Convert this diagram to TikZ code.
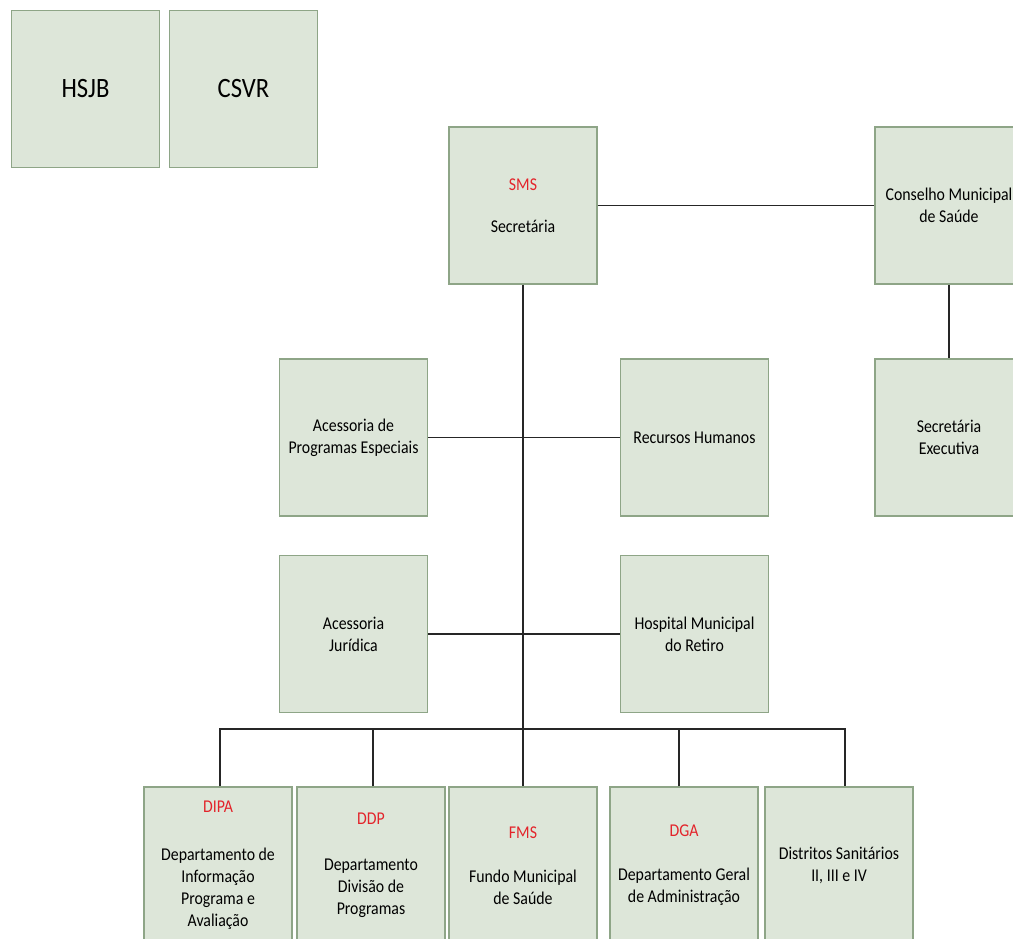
\documentclass[tikz,border=0pt]{standalone}
\usepackage{fontspec}
\setmainfont{Carlito}[FakeStretch=0.88]
\usetikzlibrary{positioning}
\definecolor{boxfill}{HTML}{DDE6D9}
\definecolor{boxline}{HTML}{8EA587}
\definecolor{tagred}{HTML}{E3242B}
\begin{document}
\begin{tikzpicture}[x=1pt,y=1pt,font=\fontsize{18}{22}\selectfont,box/.style={draw=boxline,fill=boxfill,line width=1.2pt,align=center,minimum width=148pt,minimum height=157pt,inner sep=1pt},link/.style={draw=black!85,line width=1.5pt}]
\clip (0,0) rectangle (1013,939);
\node[box,font=\fontsize{28}{32}\selectfont] (hsjb) at (85.5,850) {HSJB};
\node[box,font=\fontsize{28}{32}\selectfont] (csvr) at (243.5,850) {CSVR};
\node[box] (sms) at (523,733.5) {\textcolor{tagred}{SMS}\\[20pt]Secretária};
\node[box] (cms) at (949,733.5) {Conselho Municipal\\de Saúde};
\node[box] (se) at (949,501.5) {Secretária\\Executiva};
\node[box] (ape) at (353.5,501.5) {Acessoria de\\Programas Especiais};
\node[box] (rh) at (694.5,501.5) {Recursos Humanos};
\node[box] (aj) at (353.5,305) {Acessoria\\Jurídica};
\node[box] (hmr) at (694.5,305) {Hospital Municipal\\do Retiro};
\node[box] (dipa) at (218,73.5) {\textcolor{tagred}{DIPA}\\[26pt]Departamento de\\Informação\\Programa e\\Avaliação};
\node[box] (ddp) at (371,73.5) {\textcolor{tagred}{DDP}\\[24pt]Departamento\\Divisão de\\Programas};
\node[box] (fms) at (523,73.5) {\textcolor{tagred}{FMS}\\[22pt]Fundo Municipal\\de Saúde};
\node[box] (dga) at (684,73.5) {\textcolor{tagred}{DGA}\\[22pt]Departamento Geral\\de Administração};
\node[box] (ds) at (839,73.5) {Distritos Sanitários\\II, III e IV};
\coordinate (bus) at (523,210);
\draw[link] (sms) -- (cms);
\draw[link] (cms) -- (se);
\draw[link] (ape) -- (rh);
\draw[link] (aj) -- (hmr);
\draw[link] (sms) -- (fms);
\draw[link] ([xshift=2pt]dipa.north) |- (bus) -| ([xshift=6pt]ds.north);
\draw[link] ([xshift=2pt]ddp.north) -- ([xshift=2pt]ddp.north |- bus);
\draw[link] ([xshift=-5pt]dga.north) -- ([xshift=-5pt]dga.north |- bus);
\end{tikzpicture}
\end{document}
